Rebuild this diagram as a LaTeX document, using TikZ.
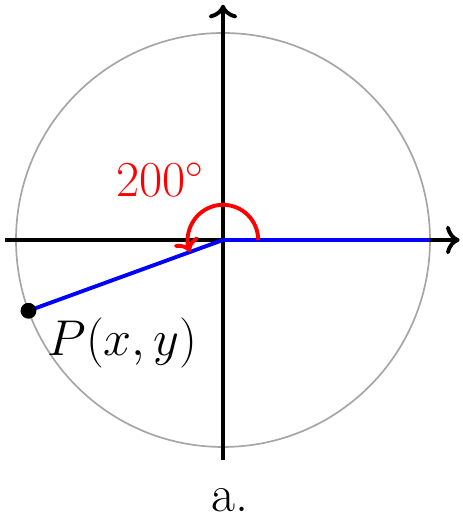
\documentclass[tikz,border=0pt]{standalone}
\usepackage{xcolor}
\usepackage{amsmath, amssymb}
\usetikzlibrary{arrows.meta, calc}
\tikzset{axis/.style={line width=1.6pt, -{To[scale=1.1]}}}

\begin{document}
\begin{tikzpicture}[font=\fontsize{21.5}{26}\selectfont]
\useasboundingbox (-3.232,-3.957) rectangle (3.478,3.478);
\coordinate (O) at (0,0);
\coordinate (xl) at (-3.16,0); \coordinate (xr) at (3.43,0);
\coordinate (yb) at (0,-3.19); \coordinate (yt) at (0,3.41);
\coordinate (A) at (0:3); \coordinate (P) at (200:3);
\draw[gray!70, line width=0.7pt] (O) circle (3);
\draw[axis] (xl) -- (xr);
\draw[axis] (yb) -- (yt);
\draw[blue, line width=1.6pt] (O) -- (A);
\draw[blue, line width=1.6pt] (O) -- (P);
\draw[red, line width=1.6pt, -{To[scale=1.0]}] (0.51,0) arc (0:200:0.51);
\fill (P) circle (0.115);
\node[red] (ang) at (-0.91,0.87) {$200^\circ$};
\node[anchor=north west, inner sep=0pt] (Plab) at ($(P)+(0.27,-0.1)$) {$P(x,y)$};
\node[inner sep=0pt] (cap) at (0.1,-3.77) {a.};
\end{tikzpicture}
\end{document}
